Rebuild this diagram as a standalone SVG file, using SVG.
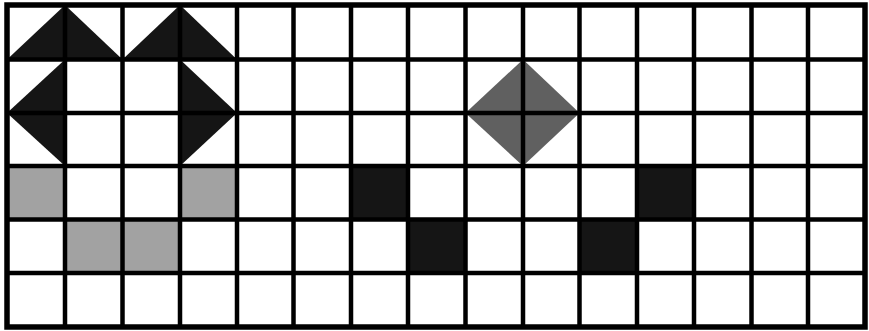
<svg xmlns="http://www.w3.org/2000/svg" width="869" height="331" viewBox="0 0 869 331">
  <style>
    .black { fill: #151515; }
    .dark { fill: #606060; }
    .gray { fill: #a2a2a2; }
    .grid line { stroke: #000; stroke-width: 4.5; }
    .border { fill: none; stroke: #000; stroke-width: 5.5; }
  </style>
  <rect x="0" y="0" width="869" height="331" fill="#fff"/>
  <g id="shapes">
    <g id="triangles-top">
      <polygon class="black" points="7,59.5 65,5 122.5,59.5"/>
      <polygon class="black" points="122.5,59.5 180,5 237,59.5"/>
    </g>
    <g id="triangles-side">
      <polygon class="black" points="7,113 65,59.5 65,166"/>
      <polygon class="black" points="180,59.5 237,113 180,166"/>
    </g>
    <g id="diamond">
      <polygon class="dark" points="465.5,113 523,59.5 579.5,113 523,166"/>
    </g>
    <g id="gray-squares">
      <rect class="gray" x="7" y="166" width="58" height="53.5"/>
      <rect class="gray" x="180" y="166" width="57" height="53.5"/>
      <rect class="gray" x="65" y="219.5" width="57.5" height="53.5"/>
      <rect class="gray" x="122.5" y="219.5" width="57.5" height="53.5"/>
    </g>
    <g id="black-squares">
      <rect class="black" x="351" y="166" width="57" height="53.5"/>
      <rect class="black" x="637" y="166" width="57" height="53.5"/>
      <rect class="black" x="408" y="219.5" width="57.5" height="53.5"/>
      <rect class="black" x="579.5" y="219.5" width="57.5" height="53.5"/>
    </g>
  </g>
  <g id="grid" class="grid">
    <line x1="65" y1="5" x2="65" y2="327"/>
    <line x1="122.5" y1="5" x2="122.5" y2="327"/>
    <line x1="180" y1="5" x2="180" y2="327"/>
    <line x1="237" y1="5" x2="237" y2="327"/>
    <line x1="293.5" y1="5" x2="293.5" y2="327"/>
    <line x1="351" y1="5" x2="351" y2="327"/>
    <line x1="408" y1="5" x2="408" y2="327"/>
    <line x1="465.5" y1="5" x2="465.5" y2="327"/>
    <line x1="523" y1="5" x2="523" y2="327"/>
    <line x1="579.5" y1="5" x2="579.5" y2="327"/>
    <line x1="637" y1="5" x2="637" y2="327"/>
    <line x1="694" y1="5" x2="694" y2="327"/>
    <line x1="751.5" y1="5" x2="751.5" y2="327"/>
    <line x1="808" y1="5" x2="808" y2="327"/>
    <line x1="7" y1="59.5" x2="865" y2="59.5"/>
    <line x1="7" y1="113" x2="865" y2="113"/>
    <line x1="7" y1="166" x2="865" y2="166"/>
    <line x1="7" y1="219.5" x2="865" y2="219.5"/>
    <line x1="7" y1="273" x2="865" y2="273"/>
    <rect class="border" x="7" y="5" width="858" height="322"/>
  </g>
</svg>
